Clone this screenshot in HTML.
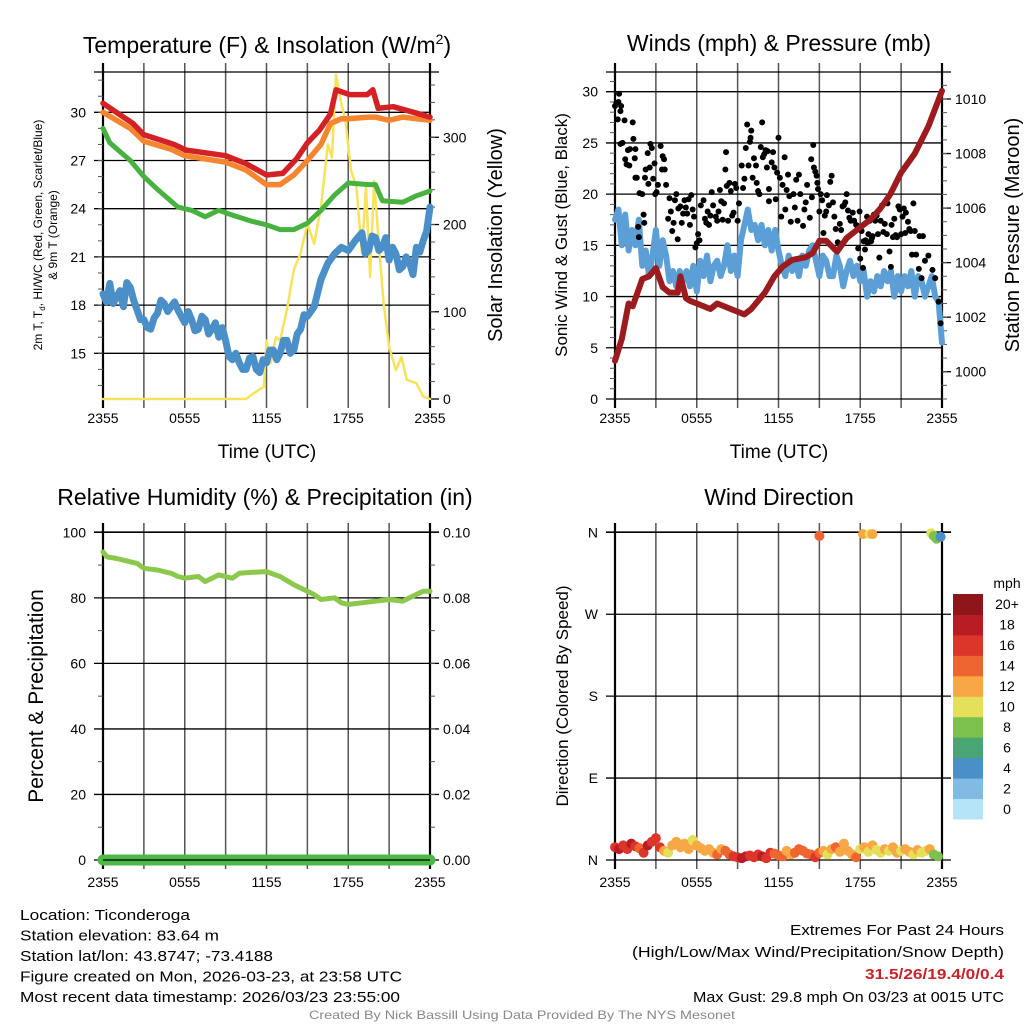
<!DOCTYPE html>
<html><head><meta charset="utf-8"><style>
body{margin:0;background:#fff}
svg{display:block;font-family:"Liberation Sans",sans-serif}
</style></head><body>
<svg id="fig" width="1024" height="1024" viewBox="0 0 1024 1024"></svg>
<script>
// ---------- DATA ----------
const tickHours=[0,6,12,18,24];
const tickLabels=["2355","0555","1155","1755","2355"];
const tempHours=[0,2.2,3,5.2,6.1,9,10.5,12,13.2,14.2,15,15.9,16.7,17.1,18.1,19.4,19.8,20.2,21.3,22.8,24];
const tempVals=[30.56,29.3,28.6,28.0,27.65,27.3,26.8,26.1,26.2,27.1,28.1,28.9,29.9,31.4,31.1,31.1,31.4,30.25,30.35,30.0,29.7];
const t9Hours=[0,2,3,5,6,9,10.5,12,13,14,15,16,16.7,17.5,18,19.5,20,21,22,24];
const t9Vals=[30.0,29.0,28.2,27.7,27.3,26.9,26.4,25.5,25.5,26.1,27.0,28.0,29.3,29.6,29.6,29.7,29.7,29.5,29.7,29.5];
const tdHours=[0,0.5,2,3,4,5.5,6.5,7.5,8.5,9.5,11,12,13,14,15,16,17,18,19.5,20,20.5,22,23,24];
const tdVals=[29.0,28.1,27.0,26.0,25.2,24.1,23.9,23.5,23.9,23.6,23.2,23.0,22.7,22.7,23.1,23.9,24.85,25.6,25.5,25.5,24.5,24.4,24.8,25.1];
const hiHours=[0,0.25,0.5,0.75,1,1.25,1.5,1.75,2,2.25,2.5,2.75,3,3.25,3.5,3.75,4,4.25,4.5,4.75,5,5.25,5.5,5.75,6,6.25,6.5,6.75,7,7.25,7.5,7.75,8,8.25,8.5,8.75,9,9.25,9.5,9.75,10,10.25,10.5,10.75,11,11.25,11.5,11.75,12,12.25,12.5,12.75,13,13.25,13.5,13.75,14,14.25,14.5,14.75,15,15.5,16,16.5,17,17.5,18,18.5,19,19.25,19.5,19.75,20,20.25,20.5,20.75,21,21.25,21.5,21.75,22,22.25,22.5,22.75,23,23.25,23.5,23.75,24];
const hiVals=[18.7,18.2,19.35,18.1,18.5,18.9,17.9,19.4,19.1,18.3,17.7,17.1,17.1,16.6,16.5,17.2,17.5,18.3,18.1,17.6,17.9,18.2,17.7,17.3,16.9,17.6,17.1,16.4,16.5,17.3,17.1,16.2,16.5,16.9,16.0,16.6,15.8,14.8,14.6,15.0,14.4,14.0,14.0,14.7,14.8,14.0,13.8,14.6,14.4,15.2,15.2,14.6,15.0,15.8,15.8,15.0,15.2,16.2,16.5,17.4,17.3,17.9,19.6,20.6,21.2,21.6,21.4,22.0,22.5,21.2,21.4,22.3,22.2,21.4,21.6,22.2,20.8,21.6,21.2,20.2,20.4,21.0,20.6,19.9,21.6,21.3,22.0,22.6,24.1];
const solHours=[0,10.5,11,11.8,12,12.3,12.7,13,13.5,14,14.5,15,15.5,16,16.5,16.8,17.1,17.5,17.8,18.2,18.6,19.0,19.3,19.6,19.9,20.3,20.6,21,21.5,21.9,22.3,23,23.5,24];
const solVals=[0,0,6,14,67,41,71,67,102,148,167,201,178,220,292,277,372,338,319,262,243,167,243,140,250,167,109,60,33,48,22,18,3,0];
const windHours=[0,0.25,0.5,0.75,1,1.25,1.5,1.75,2,2.25,2.5,2.75,3,3.25,3.5,3.75,4,4.25,4.5,4.75,5,5.25,5.5,5.75,6,6.25,6.5,6.75,7,7.25,7.5,7.75,8,8.25,8.5,8.75,9,9.25,9.5,9.75,10,10.25,10.5,10.75,11,11.25,11.5,11.75,12,12.25,12.5,12.75,13,13.25,13.5,13.75,14,14.25,14.5,14.75,15,15.25,15.5,15.75,16,16.25,16.5,16.75,17,17.25,17.5,17.75,18,18.25,18.5,18.75,19,19.25,19.5,19.75,20,20.25,20.5,20.75,21,21.25,21.5,21.75,22,22.25,22.5,22.75,23,23.25,23.5,23.75,24];
const windVals=[17.5,18.5,15,18,14.5,16.5,15,17.5,13,14.5,12,14,16.5,13,15.5,14,11.5,12.5,11,12.5,11.5,12.5,11,13,10.5,13.5,12,14,11.5,13,13.5,12,13,15,12.5,14,12,15.5,17,18.5,16.5,17,15.5,17,15,16.5,14.5,16.5,14.5,13,12,14,12.5,13.5,12,14,13,14.5,15,13.5,12,14,13.5,12,12,14,13,11,12.5,13.5,12,13,11.5,12.5,10,11.5,10.5,12,11,12.5,11.5,12.5,10,12,10.5,12,11,12.5,10,12,11.5,10,11,12,10,9.5,5.5];
const presHours=[0,0.5,1,1.3,2,2.5,3,3.5,4,4.6,4.8,5.2,5.5,6,7,7.5,8.5,9.5,10,11,11.7,12.3,13,14,14.5,15,15.5,16.3,17,18,18.8,19.5,20.2,21,22,23,24];
const presVals=[1000.4,1001.2,1002.5,1002.4,1003.4,1003.5,1003.8,1003.1,1002.9,1002.9,1003.5,1002.7,1002.6,1002.5,1002.3,1002.5,1002.3,1002.1,1002.3,1002.9,1003.5,1003.85,1004.1,1004.2,1004.35,1004.8,1004.8,1004.4,1004.9,1005.3,1005.6,1006.0,1006.5,1007.3,1008.0,1009.0,1010.3];
const gustHours=[0,0.1,0.2,0.25,0.3,0.4,0.45,0.4,0.55,0.7,0.75,0.85,0.95,1.05,1.1,1.3,1.35,1.45,1.5,1.5,1.6,1.7,1.75,1.8,2,2.1,2.15,2.2,2.25,2.4,2.45,2.55,2.6,2.7,2.8,2.9,2.95,3.05,3.15,3.35,3.45,3.5,3.6,3.65,3.75,3.9,4,4.1,4.2,4.3,4.4,4.5,4.6,4.65,4.8,4.9,5,5.1,5.2,5.3,5.4,5.5,5.6,5.7,5.8,5.9,6,6.1,6.2,6.3,6.5,6.6,6.7,6.8,6.9,7,7.1,7.2,7.4,7.5,7.6,7.7,7.8,7.9,8,8.1,8.15,8.2,8.3,8.4,8.5,8.6,8.7,8.8,8.9,9,9.1,9.3,9.4,9.5,9.6,9.7,9.8,9.9,9.95,10,10.1,10.2,10.35,10.4,10.5,10.6,10.7,10.8,10.85,10.95,11.05,11.15,11.2,11.3,11.3,11.5,11.6,11.7,11.8,11.9,12,12.1,12.2,12.3,12.45,12.5,12.6,12.7,12.8,12.9,13.1,13.2,13.3,13.4,13.5,13.6,13.8,13.9,14,14.1,14.3,14.4,14.45,14.55,14.6,14.7,14.8,14.85,14.9,15,15.1,15.2,15.3,15.4,15.5,15.55,15.7,15.8,15.9,16,16.1,16.2,16.35,16.5,16.6,16.7,16.8,16.9,17,17.1,17.2,17.3,17.45,17.55,17.7,17.8,17.85,17.95,18,18.1,18.2,18.25,18.35,18.4,18.5,18.55,18.6,18.7,18.8,18.85,18.9,19,19.1,19.2,19.3,19.4,19.5,19.6,19.7,19.8,19.95,20,20.15,20.25,20.3,20.4,20.5,20.6,20.7,20.8,20.9,21,21.1,21.2,21.3,21.35,21.5,21.6,21.7,21.8,21.9,22,22.1,22.3,22.35,22.5,22.6,22.75,23,23.3,23.5,23.75,23.9,24];
const gustVals=[28.6,28.9,27.3,29,29.8,28.1,28.6,24.9,25,27.2,23.4,22.9,24.3,22.8,24.4,27,25.4,23.5,24.4,21.6,21.6,16.8,15.8,20.1,20,18,17.2,21.6,22.4,24,21,22.6,24.9,24.5,21.5,23,20,20.2,20.9,24.7,22.4,23.7,23.4,22.4,20.9,17.6,19.6,18.3,16.4,17.2,19.4,20,15.6,18.6,18.8,17.2,18.1,19.4,18.7,18.1,19.5,17,19.9,18.5,17.8,14.8,15.2,16.1,15.5,18.9,19.4,17.6,17.2,18.3,17,17.9,20.2,18.9,17.8,17.4,18.3,20.4,19.3,17.5,19.1,22.4,24.1,20.8,17.4,21.1,20.3,17.9,18.2,21,20.6,17.4,19.1,22.8,20.6,21.5,24.5,26.8,22.8,25.1,25.5,26.2,21.6,23.5,22.8,21.1,20.3,20,24.6,27,23.6,23.9,24.3,22.6,24.2,20.5,19.3,23.1,24.1,22.6,19.5,22.1,25.5,21.6,17.8,20.9,23.6,18.5,20.4,21.9,19.8,17.3,20,18.7,21.4,17.4,21.9,20,16.9,18.5,19.2,20.9,17.7,23.4,19.7,24.8,22.6,22.2,21.8,21.1,20.5,18.3,20,19.4,16.2,17.9,18.3,19.9,18.9,21.2,21.8,19.2,17.8,16.6,15.3,17.1,16.5,18.8,18.9,19.2,20,18.4,17.7,17.4,18.2,17.4,17,16.9,14.7,18.3,13.7,16.4,12.8,15.4,14.6,15.5,17.8,15.2,16.1,17.4,15.4,15.7,15.9,18,17.4,17.9,16.1,13.8,17.4,18.9,16.3,17.1,16.1,19.1,14.4,12.9,17,15.8,17.6,16,15.8,18.8,18.5,16.1,17.8,18.6,16.2,18.2,17.3,16.6,16.4,14.1,19.1,16.4,14.1,12.7,15.9,11.8,15.9,13.5,14.0,12.6,11.8,9.5,7.4];
const rhHours=[0,0.3,1,2,2.5,3,4,5,5.5,6,7,7.5,8.5,9.5,10,11,12,13,14,15,15.5,16,17,17.5,18,19,20,21,22,22.5,23.5,24];
const rhVals=[94,92.5,92,91,90.5,89,88.5,87.5,86.5,86,86.5,85,87,86,87.5,87.8,88,86.5,84,82,81,79.5,80,78.5,78,78.5,79,79.5,79,80,82,82];
const precipHours=[0,24];
const precipVals=[0,0];
const dirHours=[0,0.3,0.6,0.9,1.2,1.5,1.8,2.1,2.4,2.7,3.0,3.3,3.6,3.9,4.2,4.5,4.8,5.1,5.4,5.7,6.0,6.3,6.6,6.9,7.2,7.5,7.8,8.1,8.4,8.7,9.0,9.3,9.6,9.9,10.2,10.5,10.8,11.1,11.4,11.7,12.0,12.3,12.6,12.9,13.2,13.5,13.8,14.1,14.4,14.7,15.0,15.3,15.6,15.9,16.2,16.5,16.8,17.1,17.4,17.7,18.0,18.3,18.6,18.9,19.2,19.5,19.8,20.1,20.4,20.7,21.0,21.3,21.6,21.9,22.2,22.5,22.8,23.1,23.4,23.7,15.0,18.2,18.7,18.9,23.2,23.4,23.6,23.9];
const dirVals=[14,12,16,12,18,15,13,8,16,20,24,14,10,8,16,20,14,18,12,22,16,13,10,12,8,6,12,10,6,4,3,2,4,5,3,6,4,2,8,7,5,4,10,6,8,12,10,7,6,3,8,10,6,12,14,9,18,10,6,3,12,14,9,16,11,8,12,10,14,8,10,12,9,6,11,8,10,12,6,4,356,358,358,358,359,356,353,355];
const dirSpeeds=[17,18,16,17,18,16,15,17,18,16,17,16,12,11,12,12,13,12,12,11,12,12,13,12,13,14,13,14,15,16,17,18,18,17,17,16,18,16,16,15,15,14,13,13,14,14,15,14,15,16,14,12,11,13,14,12,13,12,12,15,11,12,10,12,11,10,12,11,12,13,11,12,12,11,12,11,10,12,8,8,14,12,10,12,10,8,8,4];
const cbLabels=["0","2","4","6","8","10","12","14","16","18","20+"];
const cbColors=["#b5e3f8","#80bbe4","#4a8fc8","#4aa574","#7cc04d","#e4e05a","#f7a845","#ef6530","#dc3529","#b91c24","#8e161b"];

// ---------- HELPERS ----------
const NS="http://www.w3.org/2000/svg";
const svg=document.getElementById('fig');
function mk(tag,attrs,parent){const e=document.createElementNS(NS,tag);for(const k in attrs)e.setAttribute(k,attrs[k]);(parent||svg).appendChild(e);return e;}
function txt(s,attrs,parent){const e=mk('text',attrs,parent);e.textContent=s;return e;}
function lin(d0,d1,r0,r1){return v=>r0+(v-d0)/(d1-d0)*(r1-r0);}
function pathD(xs,ys,sx,sy){return xs.map((h,i)=>(i?'L':'M')+sx(h).toFixed(1)+','+sy(ys[i]).toFixed(1)).join('');}

function panel(name,x0,x1,yT,yB,leftTicks,leftFmt,leftScale,leftMinor,rightTicks,rightFmt,rightScale,rightMinor,xlabelY){
  const g=mk('g',{});
  
  
  const sx=lin(0,24,x0,x1);
  for(let h=0;h<=24;h+=3){
    const l=mk('line',{x1:sx(h),x2:sx(h),y1:yT-9,y2:yB+9,stroke:(h===0||h===24)?'#000':'#555','stroke-width':(h===0||h===24)?2.2:1.5},g);
    
    
  }
  mk('line',{x1:x0-9,x2:x1+9,y1:yT,y2:yT,stroke:'#000','stroke-width':1.3},g);
  leftTicks.forEach(v=>{
    mk('line',{x1:x0-9,x2:x1+ (rightTicks?0:9),y1:leftScale(v),y2:leftScale(v),stroke:'#000','stroke-width':1.3},g);
    const t=txt(leftFmt(v),{x:x0-17,y:leftScale(v)+5,'font-size':14,'text-anchor':'end'},g);
    
    
  });
  (leftMinor||[]).forEach(v=>{const y=leftScale(v);if(y>=yT&&y<=yB)mk('line',{x1:x0-5,x2:x0,y1:y,y2:y,stroke:'#555','stroke-width':1},g);});
  if(rightTicks){
    rightTicks.forEach(v=>{
      mk('line',{x1:x1,x2:x1+9,y1:rightScale(v),y2:rightScale(v),stroke:'#000','stroke-width':1.3},g);
      const t=txt(rightFmt(v),{x:x1+13,y:rightScale(v)+5,'font-size':14},g);
      
      
    });
    (rightMinor||[]).forEach(v=>{const y=rightScale(v);if(y>=yT&&y<=yB)mk('line',{x1:x1,x2:x1+5,y1:y,y2:y,stroke:'#555','stroke-width':1},g);});
  }
  tickHours.forEach((h,i)=>{
    const t=txt(tickLabels[i],{x:sx(h),y:xlabelY,'font-size':14,'text-anchor':'middle'},g);
    
    
  });
  return sx;
}
function series(name,d,color,w,parent){
  const p=mk('path',{d:d,fill:'none',stroke:color,'stroke-width':w,'stroke-linejoin':'round','stroke-linecap':'round'},parent);
  
  
  return p;
}
function range(a,b,s){const r=[];for(let v=a;v<=b+1e-9;v+=s)r.push(+v.toFixed(4));return r;}

// ---------- PANEL 1 ----------
const t1=txt('',{x:267,y:53,'font-size':23,'text-anchor':'middle'});
t1.innerHTML='Temperature (F) &amp; Insolation (W/m<tspan dy="-9" font-size="14">2</tspan><tspan dy="9">)</tspan>';


const yT1=lin(15,30,353.3,112.3), yS1=lin(0,300,399,137.3);
const sx1=panel('temperature-panel',103,430,72,399,[15,18,21,24,27,30],v=>String(v),yT1,range(13,32,1),[0,100,200,300],v=>String(v),yS1,range(20,360,20),423);
series('solar-insolation-line',pathD(solHours,solVals,sx1,yS1),'#f7e35a',2.5);
series('dewpoint-line',pathD(hiHours,hiVals,sx1,yT1),'#4a8fc8',7);
series('9m-temperature-line',pathD(t9Hours,t9Vals,sx1,yT1),'#f5862f',5.5);
series('2m-temperature-line',pathD(tempHours,tempVals,sx1,yT1),'#d42126',5.5);
series('green-temperature-line',pathD(tdHours,tdVals,sx1,yT1),'#47b23f',5);
let a=txt('2m T, T',{x:0,y:0,'font-size':12,'text-anchor':'middle',transform:'translate(42,235) rotate(-90)'});
a.innerHTML='2m T, T<tspan font-size="8" dy="3">d</tspan><tspan dy="-3">, HI/WC (Red, Green, Scarlet/Blue)</tspan>';


a=txt('& 9m T (Orange)',{x:0,y:0,'font-size':12,'text-anchor':'middle',transform:'translate(57,235) rotate(-90)'});


a=txt('Solar Insolation (Yellow)',{x:0,y:0,'font-size':20,'text-anchor':'middle',transform:'translate(502,235) rotate(-90)'});


a=txt('Time (UTC)',{x:267,y:458,'font-size':19,'text-anchor':'middle'});



// ---------- PANEL 2 ----------
a=txt('Winds (mph) & Pressure (mb)',{x:779,y:51,'font-size':23,'text-anchor':'middle'});


const yW2=lin(0,30,399,91.7), yP2=lin(1000,1010,371.7,99);
const sx2=panel('winds-panel',615,942,72,399,[0,5,10,15,20,25,30],v=>String(v),yW2,range(1,31,1).filter(v=>v%5),[1000,1002,1004,1006,1008,1010],v=>String(v),yP2,range(999,1011,0.5),423);
series('sonic-wind-line',pathD(windHours,windVals,sx2,yW2),'#5b9fd6',6);
const gg=mk('g',{});


gustHours.forEach((h,i)=>{
  const c=mk('circle',{cx:sx2(h),cy:yW2(gustVals[i]),r:3,fill:'#000'},gg);
  
  
});
series('station-pressure-line',pathD(presHours,presVals,sx2,yP2),'#9b1b1e',6);
a=txt('Sonic Wind & Gust (Blue, Black)',{x:0,y:0,'font-size':17,'text-anchor':'middle',transform:'translate(567,235) rotate(-90)'});


a=txt('Station Pressure (Maroon)',{x:0,y:0,'font-size':20,'text-anchor':'middle',transform:'translate(1019,235) rotate(-90)'});


a=txt('Time (UTC)',{x:779,y:458,'font-size':19,'text-anchor':'middle'});



// ---------- PANEL 3 ----------
a=txt('Relative Humidity (%) & Precipitation (in)',{x:265,y:505,'font-size':23,'text-anchor':'middle'});


const yR3=lin(0,100,860,532.3), yPr3=lin(0,0.1,860,532.3);
const sx3=panel('humidity-panel',103,430,532,860,[0,20,40,60,80,100],v=>String(v),yR3,range(10,90,20),[0,0.02,0.04,0.06,0.08,0.1],v=>v.toFixed(2),yPr3,range(0.01,0.09,0.01),887);
series('relative-humidity-line',pathD(rhHours,rhVals,sx3,yR3),'#8cc84b',5);
series('precipitation-line',pathD(precipHours,precipVals,sx3,yPr3),'#4db848',11);
mk('line',{x1:103,x2:430,y1:860,y2:860,stroke:'#000','stroke-width':1.3});
a=txt('Percent & Precipitation',{x:0,y:0,'font-size':21,'text-anchor':'middle',transform:'translate(43,696) rotate(-90)'});



// ---------- PANEL 4 ----------
a=txt('Wind Direction',{x:779,y:505,'font-size':23,'text-anchor':'middle'});


const yD4=lin(0,360,860,532.3);
const dirTicks=[0,90,180,270,360], dirNames=['N','E','S','W','N'];
const sx4=panel('wind-direction-panel',615,942,532,860,dirTicks,v=>dirNames[dirTicks.indexOf(v)],yD4,null,null,null,null,null,887);
mk('line',{x1:942,x2:951,y1:532,y2:532,stroke:'#000','stroke-width':1.3});
const dg=mk('g',{});


function spColor(s){return cbColors[Math.min(10,Math.floor(s/2))];}
dirHours.forEach((h,i)=>{
  const c=mk('circle',{cx:sx4(h),cy:yD4(dirVals[i]),r:5,fill:spColor(dirSpeeds[i])},dg);
  
  
});
a=txt('Direction (Colored By Speed)',{x:0,y:0,'font-size':17,'text-anchor':'middle',transform:'translate(568,696) rotate(-90)'});


const cb=mk('g',{});


const cbTop=594, cbH=225/11;
cbColors.forEach((c,i)=>{
  const y=cbTop+(10-i)*cbH;
  const r=mk('rect',{x:953,y:y,width:30,height:cbH+0.5,fill:c},cb);
  
  
  const t=txt(cbLabels[i],{x:1007,y:y+cbH/2+5,'font-size':14,'text-anchor':'middle'},cb);
  
  
});
a=txt('mph',{x:1007,y:588,'font-size':14,'text-anchor':'middle'});



// ---------- FOOTER ----------
const leftLines=['Location: Ticonderoga','Station elevation: 83.64 m','Station lat/lon: 43.8747; -73.4188','Figure created on Mon, 2026-03-23, at 23:58 UTC','Most recent data timestamp: 2026/03/23 23:55:00'];
const leftW=[170,199,253,382,380];
leftLines.forEach((s,i)=>{
  const t=txt(s,{x:20,y:920+i*20.5,'font-size':15,textLength:leftW[i],lengthAdjust:'spacingAndGlyphs'});
  
  
});
const rl=[['Extremes For Past 24 Hours',935,214,'#000',false],['(High/Low/Max Wind/Precipitation/Snow Depth)',957,372,'#000',false],['31.5/26/19.4/0/0.4',979,139,'#c8232b',true],['Max Gust: 29.8 mph On 03/23 at 0015 UTC',1002,311,'#000',false]];
rl.forEach(r=>{
  const t=txt(r[0],{x:1004,y:r[1],'font-size':15,'text-anchor':'end',fill:r[3],'font-weight':r[4]?'bold':'normal',textLength:r[2],lengthAdjust:'spacingAndGlyphs'});
  
  
});
a=txt('Created By Nick Bassill Using Data Provided By The NYS Mesonet',{x:522,y:1019,'font-size':12,'text-anchor':'middle',fill:'#888',textLength:426,lengthAdjust:'spacingAndGlyphs'});


a=mk('rect',{x:880,y:0,width:144,height:12,fill:'#fff'});


</script>
</body></html>
